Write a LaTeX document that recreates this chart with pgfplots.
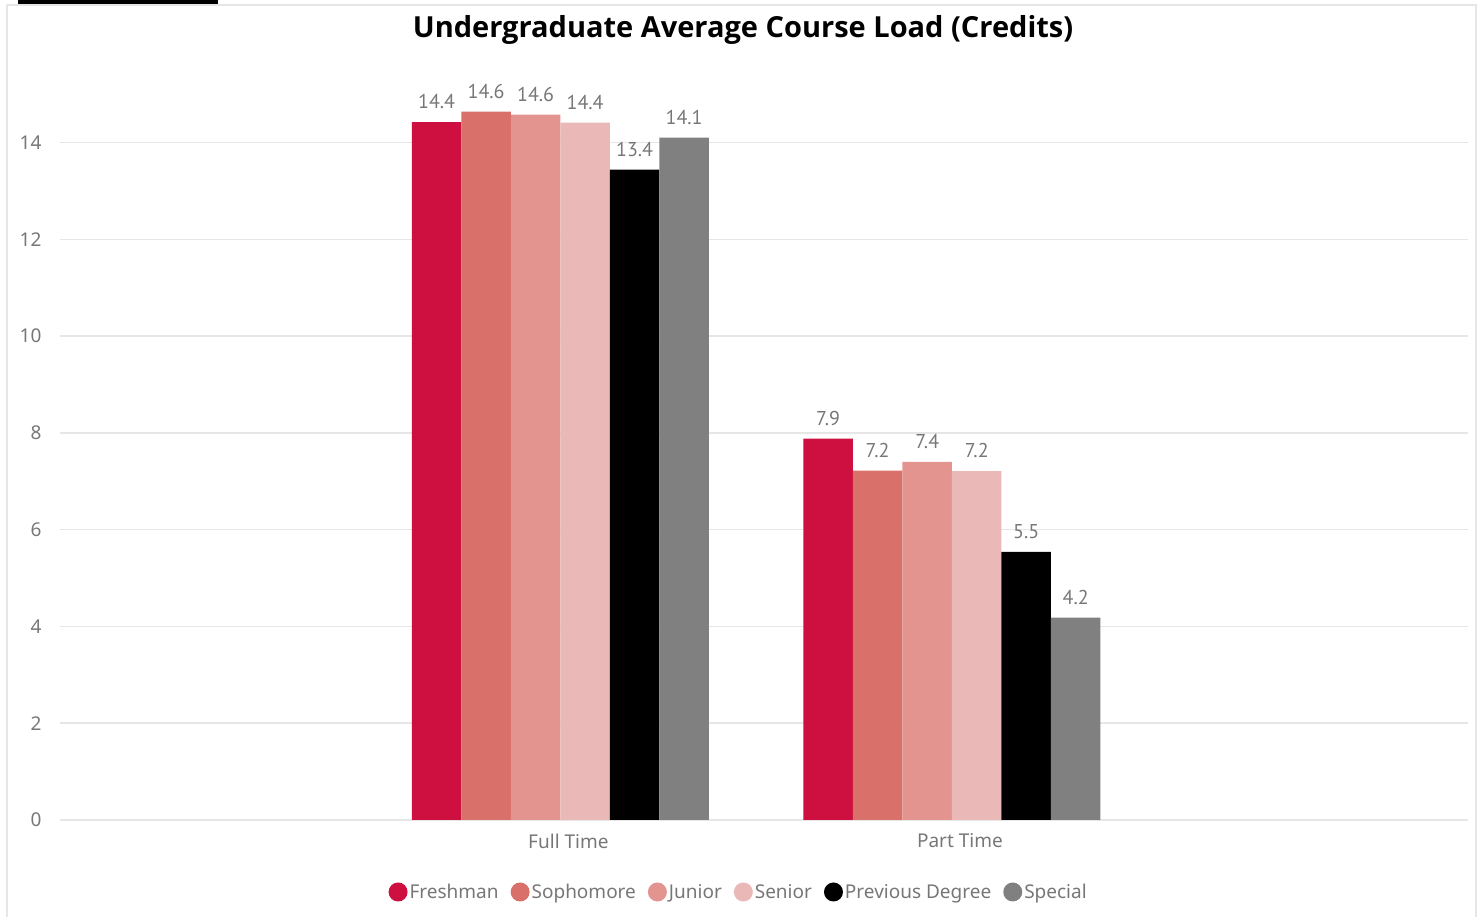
\documentclass[border=0pt]{standalone}
\usepackage{fontspec}
\setmainfont{Noto Sans}
\newfontfamily\labelfont{PT Sans}
\newfontfamily\titlefont{Open Sans}
\usepackage{pgfplots}
\pgfplotsset{compat=1.18}
\definecolor{c1}{HTML}{CD1040}
\definecolor{c2}{HTML}{D9706A}
\definecolor{c3}{HTML}{E3948F}
\definecolor{c4}{HTML}{EAB8B6}
\definecolor{c5}{HTML}{000000}
\definecolor{c6}{HTML}{808080}
\definecolor{txtgray}{HTML}{777777}
\definecolor{gridgray}{HTML}{E6E6E6}
\begin{document}
\begin{tikzpicture}[x=1pt,y=1pt]
\useasboundingbox (0,0) rectangle (1483,917);
\draw[color=gridgray, line width=2pt] (7,-10) -- (7,912) -- (1476,912) -- (1476,-10);
\fill[black] (18,913) rectangle (218,917);
\node[font=\titlefont\bfseries\fontsize{29}{34}\selectfont] at (743,887) {Undergraduate Average Course Load (Credits)};
\begin{axis}[
  at={(60pt,97pt)}, anchor=south west,
  scale only axis, width=1408pt, height=750pt,
  xmin=-1.278, xmax=2.318, ymin=0, ymax=15.5,
  ybar=0pt, bar width=49.5pt,
  axis line style={draw=none},
  tick style={draw=none},
  ymajorgrids, major grid style={color=gridgray, line width=1.5pt},
  ytick={0,2,...,14},
  xtick={0,1}, xticklabels={Full Time, Part Time},
  xticklabel style={font=\fontsize{19}{22}\selectfont, text=txtgray, xshift=8pt, yshift=-6pt},
  yticklabel style={font=\fontsize{19}{22}\selectfont, text=txtgray, xshift=-15pt},
  /pgf/number format/assume math mode=true,
  nodes near coords,
  nodes near coords style={font=\labelfont\fontsize{20}{24}\selectfont, text=txtgray, anchor=south, inner sep=0pt, yshift=13pt, /pgf/number format/.cd, fixed, fixed zerofill, precision=1},
  legend columns=6,
  legend style={draw=none, at={(0.482,-0.096)}, anchor=center, font=\fontsize{19}{22}\selectfont, text=txtgray,
    /tikz/every even column/.append style={column sep=10pt}},
  legend image code/.code={\fill[#1] (9.5pt,0pt) circle (9.5pt);},
]
\addplot[fill=c1, draw=none] coordinates {(0,14.42) (1,7.88)};
\addplot[fill=c2, draw=none] coordinates {(0,14.64) (1,7.22)};
\addplot[fill=c3, draw=none] coordinates {(0,14.58) (1,7.40)};
\addplot[fill=c4, draw=none] coordinates {(0,14.41) (1,7.21)};
\addplot[fill=c5, draw=none] coordinates {(0,13.44) (1,5.54)};
\addplot[fill=c6, draw=none] coordinates {(0,14.10) (1,4.18)};
\legend{Freshman, Sophomore, Junior, Senior, Previous Degree, Special}
\end{axis}
\end{tikzpicture}
\end{document}
